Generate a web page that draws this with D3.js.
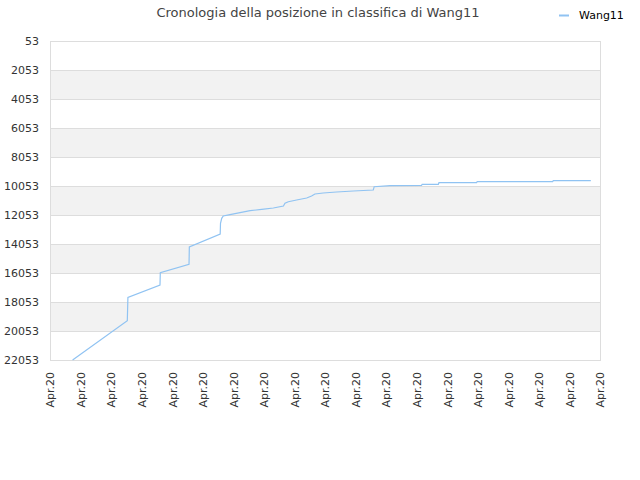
<!DOCTYPE html>
<html>
<head>
<meta charset="utf-8">
<script src="https://cdn.jsdelivr.net/npm/d3@7"></script>
<style>
  body { margin: 0; background: #fff; }
  text { font-family: "DejaVu Sans", sans-serif; }
</style>
</head>
<body>
<svg id="chart" width="640" height="480"></svg>
<script>
var title = 'Cronologia della posizione in classifica di Wang11';
var seriesName = 'Wang11';

// x tick labels (one per tick, 19 ticks)
var xTickLabels = ['Apr.20','Apr.20','Apr.20','Apr.20','Apr.20','Apr.20','Apr.20',
  'Apr.20','Apr.20','Apr.20','Apr.20','Apr.20','Apr.20','Apr.20','Apr.20',
  'Apr.20','Apr.20','Apr.20','Apr.20'];
var yTicks = [53, 2053, 4053, 6053, 8053, 10053, 12053, 14053, 16053, 18053, 20053, 22053];

// position in time (in tick units) and rank
var xPos = [0.74, 2.53, 2.55, 3.60, 3.61, 4.55, 4.56, 5.57, 5.58, 5.62, 5.67, 5.89,
  6.22, 6.55, 6.93, 7.31, 7.64, 7.69, 7.80, 8.07, 8.40, 8.56, 8.67, 8.94, 9.38,
  9.93, 10.58, 10.61, 11.13, 12.16, 12.18, 12.71, 12.73, 13.96, 13.98, 16.45,
  16.47, 17.70];
var rank = [22050, 19344, 17730, 16882, 16033, 15454, 14261, 13364, 12626, 12281,
  12123, 12033, 11895, 11757, 11661, 11571, 11433, 11247, 11136, 11019, 10881,
  10743, 10605, 10536, 10467, 10399, 10330, 10102, 10033, 10005, 9936, 9936,
  9826, 9826, 9757, 9757, 9688, 9688];

var svg = d3.select('#chart');
var plotLeft = 50, plotRight = 600, plotTop = 41, plotBottom = 360;

var x = d3.scaleLinear().domain([0, xTickLabels.length - 1]).range([plotLeft, plotRight]);
var y = d3.scaleLinear().domain([53, 22053]).range([plotTop, plotBottom]);

// alternating bands
var bands = [];
for (var i = 0; i < yTicks.length - 1; i++) {
  if (i % 2 == 1) bands.push([yTicks[i], yTicks[i + 1]]);
}
svg.append('g').selectAll('rect').data(bands).enter().append('rect')
  .attr('x', plotLeft)
  .attr('y', function(d) { return y(d[0]); })
  .attr('width', plotRight - plotLeft)
  .attr('height', function(d) { return y(d[1]) - y(d[0]); })
  .attr('fill', '#f2f2f2');

// grid lines
svg.append('g').selectAll('line').data(yTicks).enter().append('line')
  .attr('x1', plotLeft).attr('x2', plotRight)
  .attr('y1', function(d) { return Math.round(y(d)) + 0.5; })
  .attr('y2', function(d) { return Math.round(y(d)) + 0.5; })
  .attr('stroke', '#dddddd');

// frame
svg.append('line').attr('x1', plotLeft + 0.5).attr('x2', plotLeft + 0.5)
  .attr('y1', plotTop).attr('y2', plotBottom + 1).attr('stroke', '#dddddd');
svg.append('line').attr('x1', plotRight + 0.5).attr('x2', plotRight + 0.5)
  .attr('y1', plotTop).attr('y2', plotBottom + 1).attr('stroke', '#dddddd');

// y axis
var yAxis = d3.axisLeft(y).tickValues(yTicks).tickSize(0).tickPadding(0)
  .tickFormat(function(d) { return d; });
var gy = svg.append('g').attr('transform', 'translate(39,0)').call(yAxis);
gy.select('.domain').remove();
gy.selectAll('text').attr('font-size', 11).attr('fill', '#333')
  .attr('font-family', '"DejaVu Sans", sans-serif');

// x axis
var xAxis = d3.axisBottom(x)
  .tickValues(d3.range(xTickLabels.length)).tickSize(0)
  .tickFormat(function(d, i) { return xTickLabels[i]; });
var gx = svg.append('g').attr('transform', 'translate(0,' + plotBottom + ')').call(xAxis);
gx.select('.domain').remove();
gx.selectAll('text').attr('font-size', 11).attr('fill', '#333')
  .attr('font-family', '"DejaVu Sans", sans-serif')
  .attr('text-anchor', 'end')
  .attr('dy', '0.35em')
  .attr('transform', 'translate(0,12) rotate(-90)')
  .attr('x', 0).attr('y', 0);

// series line
var pts = xPos.map(function(d, i) { return [d, rank[i]]; });
var line = d3.line()
  .x(function(d) { return x(d[0]); })
  .y(function(d) { return y(d[1]); });
svg.append('path').datum(pts)
  .attr('d', line)
  .attr('fill', 'none')
  .attr('stroke', '#90c3f2')
  .attr('stroke-width', 1.2);

// title
svg.append('text').attr('x', 318).attr('y', 17)
  .attr('text-anchor', 'middle')
  .attr('font-size', 13).attr('fill', '#444')
  .text(title);

// legend
svg.append('line').attr('x1', 559).attr('x2', 569).attr('y1', 15.5).attr('y2', 15.5)
  .attr('stroke', '#90c3f2').attr('stroke-width', 2);
svg.append('text').attr('x', 579).attr('y', 19)
  .attr('font-size', 11).attr('fill', '#000')
  .text(seriesName);
</script>
</body>
</html>
